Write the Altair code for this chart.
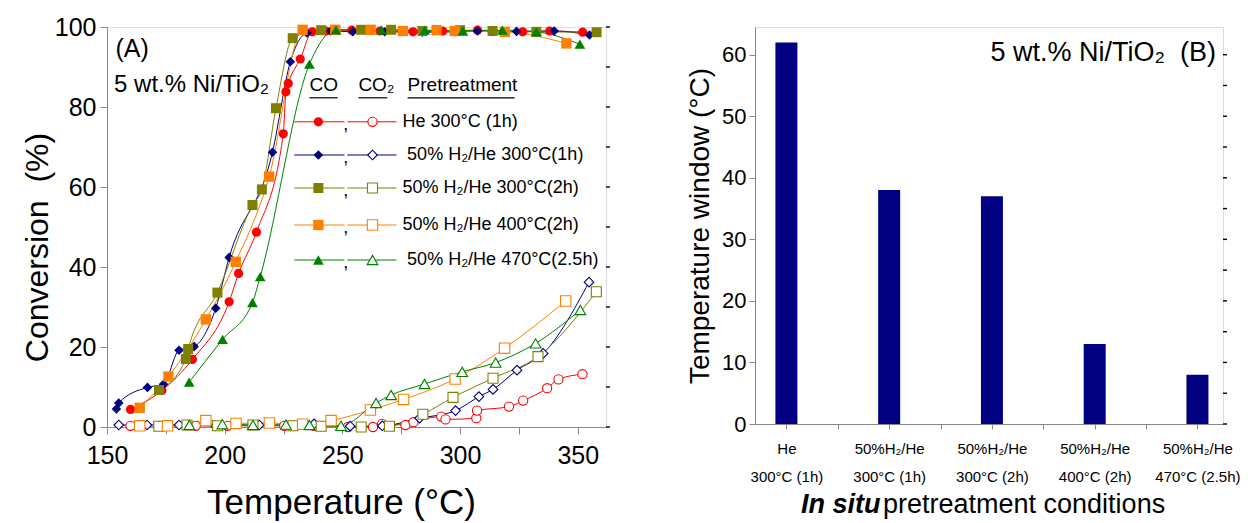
import altair as alt
import pandas as pd

FONT = "Liberation Sans"

# ---------------- Panel A data ----------------
series_names = ["He 300°C (1h)", "50% H₂/He 300°C(1h)", "50% H₂/He 300°C(2h)",
                "50% H₂/He 400°C(2h)", "50% H₂/He 470°C(2.5h)"]
series_colors = ["#FF0000", "#000080", "#808000", "#FF8000", "#008000"]
series_shapes = ["circle", "diamond", "square", "square", "triangle-up"]
filled_sizes = [110, 150, 100, 100, 140]
open_sizes = [85, 115, 75, 75, 105]

# CO conversion (filled symbols)
co_he300_1h_T = [160, 173.3, 186.3, 201.9, 205.9, 213.5, 224.9, 226, 227, 232.1, 237.2, 243, 254, 266,
                 280, 292.6, 307.4, 326.6, 338.1, 352.1]
co_he300_1h_C = [4.4, 9.1, 16.9, 31.3, 38.4, 48.7, 73.3, 83.8, 85.9, 92, 98.8, 99, 99.2, 99,
                 98.8, 99, 99.2, 98.8, 99, 98.7]
co_h2_300_1h_T = [154, 155, 167.2, 174, 180.6, 187, 196.2, 201.9, 220.3, 227.9, 235, 245, 254.4, 268,
                  284, 297.7, 307.4, 313.8, 324, 340, 355]
co_h2_300_1h_C = [4.5, 6, 9.9, 10.7, 19.2, 20.1, 29.7, 42.4, 68.7, 91.3, 98.5, 99, 98.8, 98.8,
                  98.7, 98.8, 99, 98.8, 98.9, 99, 98]
co_h2_300_2h_T = [172.1, 183.5, 184.5, 196.9, 211.8, 215.8, 221.8, 228.9, 241, 258, 270.7, 284, 300,
                  313.8, 332.4, 358]
co_h2_300_2h_C = [9.25, 17, 19.5, 33.6, 55.5, 59.4, 79.7, 97.2, 99.2, 99.3, 99.3, 99, 99.2,
                  99, 98.8, 98.7]
co_h2_400_2h_T = [163.9, 176.1, 192, 204.7, 218.9, 233.1, 247, 262, 275.7, 290, 297.7, 319, 345.2]
co_h2_400_2h_C = [4.8, 12.6, 26.9, 41.3, 62.6, 99.3, 99.3, 99.3, 99, 99.2, 99, 98.8, 95.9]
co_h2_470_T = [184.9, 199.1, 211.8, 215.1, 236, 247.3, 266.5, 285, 301.2, 318, 332.4, 350.9]
co_h2_470_C = [11.2, 21.9, 31.1, 37.6, 90.7, 99.3, 99.3, 99.2, 99, 99.2, 98.8, 95.7]

# CO2 conversion (open symbols)
co2_he300_1h_T = [160, 172, 187.7, 201.2, 225.3, 238, 252.3, 263, 266.9, 276.8, 280.2, 292, 293.8,
                  306.9, 307.2, 320.8, 326.8, 337, 341.8, 352]
co2_he300_1h_C = [0.3, 0.3, 0.3, 0.3, 0.3, 0.3, 0, 0, 0.8, 0.5, 1.2, 2.6, 1.9,
                  2.2, 4.1, 5.1, 6.6, 9.7, 11.9, 13.2]
co2_h2_300_1h_T = [155, 167, 180.6, 196, 214.7, 228, 238, 253.3, 267, 282.8, 298.1, 308, 314, 324.2,
                   335.3, 354.8]
co2_h2_300_1h_C = [0.5, 0.5, 0.5, 0.3, 0.5, 0.3, 0.8, 0.2, 0.3, 2.2, 4.1, 7.6, 9.4, 14.2,
                   18.4, 36.2]
co2_h2_300_2h_T = [172, 184, 197, 212, 229, 241, 258, 270, 284.2, 297, 314, 333.1, 357.9]
co2_h2_300_2h_C = [0.2, 0.5, 0.3, 0.5, 0.3, 0.2, 0, 0.2, 3.2, 7.4, 12.2, 17.6, 33.8]
co2_h2_400_2h_T = [163.9, 175.7, 192, 204.8, 219, 233.1, 245.2, 261.9, 276, 297.9, 318.9, 344.9]
co2_h2_400_2h_C = [0.3, 0.3, 1.6, 0.9, 1.0, 0.7, 1.6, 4.25, 6.9, 12, 19.7, 31.5]
co2_h2_470_T = [185, 199, 212, 226, 236, 249.4, 264.3, 270.7, 284.9, 300.9, 315.1, 332.1, 351.1]
co2_h2_470_C = [0.5, 0.7, 0.5, 0.6, 0.5, 0.3, 6, 8, 10.75, 13.8, 16.1, 20.9, 29.25]

# ---------------- Panel B data ----------------
conditions = ["He|300°C (1h)", "50%H₂/He|300°C (1h)", "50%H₂/He|300°C (2h)",
              "50%H₂/He|400°C (2h)", "50%H₂/He|470°C (2.5h)"]
windows = [62, 38, 37, 13, 8]

# tick values
ticksA_y = list(range(0, 101, 10))
ticksB_y = list(range(0, 61, 5))

# ---------------- build tables ----------------
co_sets = [(co_he300_1h_T, co_he300_1h_C), (co_h2_300_1h_T, co_h2_300_1h_C),
           (co_h2_300_2h_T, co_h2_300_2h_C), (co_h2_400_2h_T, co_h2_400_2h_C),
           (co_h2_470_T, co_h2_470_C)]
co2_sets = [(co2_he300_1h_T, co2_he300_1h_C), (co2_h2_300_1h_T, co2_h2_300_1h_C),
            (co2_h2_300_2h_T, co2_h2_300_2h_C), (co2_h2_400_2h_T, co2_h2_400_2h_C),
            (co2_h2_470_T, co2_h2_470_C)]
rows = []
for gas, sets in (("CO", co_sets), ("CO2", co2_sets)):
    for name, (T, C) in zip(series_names, sets):
        for i, (t, c) in enumerate(zip(T, C)):
            rows.append({"series": name, "gas": gas, "key": name + gas, "T": t, "C": c, "i": i})
df = pd.DataFrame(rows)

# legend table (positions in data units of panel A)
leg_y = [76.3, 68.0, 59.75, 50.5, 41.75]
leg = pd.DataFrame({
    "series": series_names,
    "y": leg_y,
    "x1": 229.6, "x2": 250.9, "xm1": 239.8,
    "x3": 252.1, "x4": 273.0, "xm2": 262.8,
    "xc": 251.4,
    "xt": [275.5, 277.5, 275.5, 275.5, 277.5],
    "comma": ",",
})
hdr = pd.DataFrame({"t": ["CO", "CO₂", "Pretreatment"],
                    "x": [236.0, 256.8, 277.7], "x2": [248.0, 269.1, 323.2],
                    "y": [85.4, 85.4, 85.4], "yu": [82.3, 82.3, 82.3]})
ann = pd.DataFrame({"t": ["(A)", "5 wt.% Ni/TiO₂"], "x": [153.6, 153.0], "y": [94.6, 85.4],
                    "fs": [25, 24]})

color_scale = alt.Scale(domain=series_names, range=series_colors)
shape_scale = alt.Scale(domain=series_names, range=series_shapes)

xA = alt.X("T:Q", scale=alt.Scale(domain=[150, 362], nice=False, zero=False),
           axis=alt.Axis(values=list(range(150, 351, 25)),
                         labelExpr="datum.value % 50 == 0 ? datum.label : ''",
                         title="Temperature (°C)", titleFontSize=35, titleFontWeight="normal",
                         labelFontSize=25, tickSize=7, labelPadding=9, titlePadding=17,
                         labelFlush=False, labelOverlap=False, titleX=234, grid=False))
yA = alt.Y("C:Q", scale=alt.Scale(domain=[0, 100], nice=False),
           axis=alt.Axis(values=ticksA_y,
                         labelExpr="datum.value % 20 == 0 ? datum.label : ''",
                         title="Conversion\u00a0\u00a0(%)", titleFontSize=32, titleFontWeight="normal",
                         labelFontSize=25, tickSize=7, labelPadding=4, titlePadding=0,
                         titleY=220, grid=False))
colA = alt.Color("series:N", scale=color_scale, legend=None)
shpA = alt.Shape("series:N", scale=shape_scale, legend=None)

base = alt.Chart(df)
lines = base.mark_line(strokeWidth=1, interpolate="monotone").encode(
    x=xA, y=yA, color=colA, detail="key:N", order="i:Q")
mirrorA = alt.Chart(pd.DataFrame({"v": ticksA_y})).mark_rule(color="black", strokeWidth=1.4).encode(
    y="v:Q", x=alt.value(499), x2=alt.value(503))
pts_co = base.transform_filter(alt.datum.gas == "CO").mark_point(filled=True, opacity=1).encode(
    x="T:Q", y="C:Q", color=colA, shape=shpA,
    size=alt.Size("series:N", scale=alt.Scale(domain=series_names, range=filled_sizes), legend=None))
pts_co2 = base.transform_filter(alt.datum.gas == "CO2").mark_point(
    filled=False, fill="white", opacity=1, strokeWidth=1.1).encode(
    x="T:Q", y="C:Q", color=colA, shape=shpA,
    size=alt.Size("series:N", scale=alt.Scale(domain=series_names, range=open_sizes), legend=None))

lb = alt.Chart(leg)
leg_r1 = lb.mark_rule(strokeWidth=1).encode(x="x1:Q", x2="x2:Q", y="y:Q", color=colA)
leg_r2 = lb.mark_rule(strokeWidth=1).encode(x="x3:Q", x2="x4:Q", y="y:Q", color=colA)
leg_p1 = lb.mark_point(filled=True, opacity=1).encode(
    x="xm1:Q", y="y:Q", color=colA, shape=shpA,
    size=alt.Size("series:N", scale=alt.Scale(domain=series_names, range=filled_sizes), legend=None))
leg_p2 = lb.mark_point(filled=False, fill="white", opacity=1, strokeWidth=1.1).encode(
    x="xm2:Q", y="y:Q", color=colA, shape=shpA,
    size=alt.Size("series:N", scale=alt.Scale(domain=series_names, range=open_sizes), legend=None))
leg_c = lb.mark_text(font=FONT, fontSize=18, color="black", baseline="middle", dy=3).encode(
    x="xc:Q", y="y:Q", text="comma:N")
leg_t = lb.mark_text(font=FONT, fontSize=18, color="black", align="left", baseline="middle").encode(
    x="xt:Q", y="y:Q", text="series:N")
hb = alt.Chart(hdr)
hdr_t = hb.mark_text(font=FONT, fontSize=19, color="black", align="left", baseline="middle").encode(
    x="x:Q", y="y:Q", text="t:N")
hdr_u = hb.mark_rule(strokeWidth=1.2, color="black").encode(x="x:Q", x2="x2:Q", y="yu:Q")
ann_t = alt.Chart(ann).mark_text(font=FONT, color="black", align="left", baseline="middle").encode(
    x="x:Q", y="y:Q", text="t:N", size=alt.Size("fs:Q", scale=None, legend=None))

left = alt.layer(lines, mirrorA, pts_co2, pts_co, leg_r1, leg_r2, leg_p1, leg_p2, leg_c, leg_t,
                 hdr_t, hdr_u, ann_t).properties(width=499, height=400)

# ---------------- Panel B ----------------
dfB = pd.DataFrame({"cond": conditions, "win": windows})
dfB["idx"] = list(range(len(conditions)))
labels_js = "[" + ",".join("'" + c + "'" for c in conditions) + "]"
xB = alt.X("idx:Q", scale=alt.Scale(domain=[-0.257, 4.2], nice=False, zero=False),
           axis=alt.Axis(values=[k * 0.5 for k in range(2 * len(conditions) - 1)],
                         labelExpr="datum.value % 1 == 0 ? split(" + labels_js + "[datum.value], '|') : ''",
                         labelAngle=0, title=None, labelFontSize=15, labelLineHeight=28,
                         labelPadding=12, tickSize=5, labelFlush=False, labelOverlap=False,
                         grid=False))
yB = alt.Y("win:Q", scale=alt.Scale(domain=[0, 64.5], nice=False),
           axis=alt.Axis(values=ticksB_y,
                         labelExpr="datum.value % 10 == 0 ? datum.label : ''",
                         title="Temperature window (°C)", titleFontSize=28, titleFontWeight="normal",
                         labelFontSize=22, tickSize=6, labelPadding=3, titlePadding=7, grid=False))
barB = alt.Chart(dfB).mark_bar(color="#000080", size=22).encode(x=xB, y=yB)
mirrorB = alt.Chart(pd.DataFrame({"v": ticksB_y})).mark_rule(color="black", strokeWidth=1.4).encode(
    y="v:Q", x=alt.value(468), x2=alt.value(472))
txtB = alt.Chart(pd.DataFrame({"t": ["5 wt.% Ni/TiO₂\u00a0\u00a0(B)"]})).mark_text(
    font=FONT, fontSize=27, color="black", align="right", baseline="middle").encode(
    x=alt.value(461), y=alt.value(26), text="t:N")
xt1 = alt.Chart(pd.DataFrame({"t": ["In situ"]})).mark_text(
    font=FONT, fontSize=27, fontWeight="bold", fontStyle="italic", color="black",
    align="left", baseline="alphabetic").encode(x=alt.value(46), y=alt.value(486), text="t:N")
xt2 = alt.Chart(pd.DataFrame({"t": ["pretreatment conditions"]})).mark_text(
    font=FONT, fontSize=27, color="black", align="left", baseline="alphabetic").encode(
    x=alt.value(128), y=alt.value(486), text="t:N")
right = alt.layer(barB, mirrorB, txtB, xt1, xt2).properties(width=468, height=397)

chart = alt.hconcat(left, right, spacing=74).properties(
    padding={"left": 12, "top": 6, "right": 0, "bottom": 0}
).configure_view(stroke="black", strokeWidth=2).configure_axis(
    labelFont=FONT, titleFont=FONT, labelColor="black", titleColor="black",
    domainColor="black", tickColor="black", domainWidth=1.6, tickWidth=1.4
).configure(background="white")

chart.save("out.html", embed_options={"renderer": "svg", "actions": False})
